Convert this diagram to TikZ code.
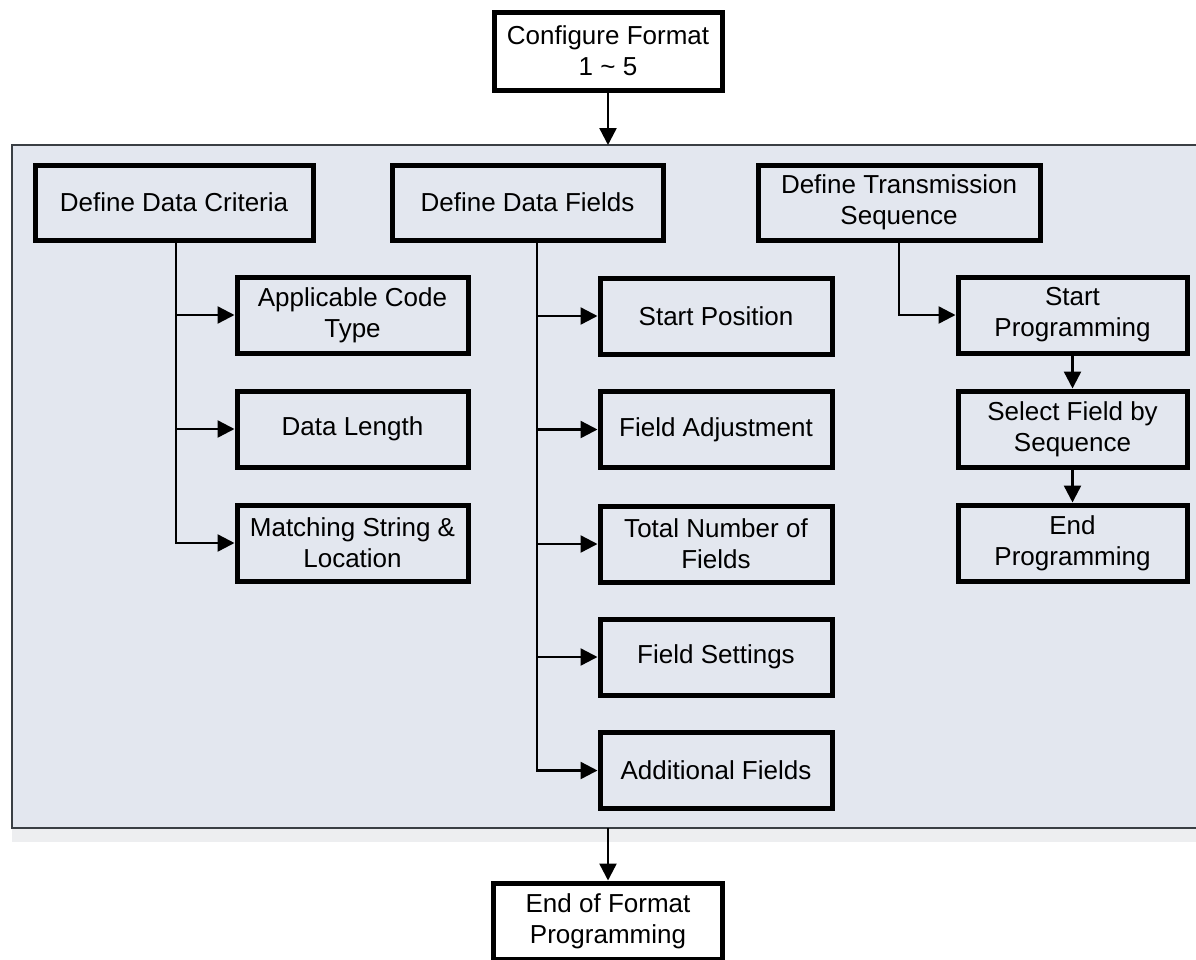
\documentclass[tikz,border=0pt]{standalone}
\usepackage{fontspec}
\setmainfont{Liberation Sans}
\usetikzlibrary{arrows.meta}
\definecolor{panelfill}{HTML}{E3E7EF}
\definecolor{panelline}{HTML}{3A3F44}
\definecolor{shadowfill}{HTML}{EDEEF0}
\begin{document}
\begin{tikzpicture}[x=1pt,y=-1pt,
  box/.style={draw=black, line width=5pt, rectangle, align=center,
    inner sep=0pt, font=\fontsize{26}{31}\selectfont},
  wbox/.style={box, fill=white},
  conn/.style={line width=2.4pt, -{Triangle[length=17pt,width=17pt]}},
]
\useasboundingbox (0,0) rectangle (1196,959);
% panel
\fill[shadowfill] (12,828) rectangle (1196,842);
\fill[panelfill] (12,145) rectangle (1196,828);
\draw[panelline, line width=2pt] (1196,145) -- (12,145) -- (12,828) -- (1196,828);

% top and bottom
\node[wbox, minimum width=228pt, minimum height=78pt] (cfg) at (608,51) {Configure Format\\1 \textasciitilde{} 5};
\coordinate (ptop) at (608,145);
\coordinate (pbot) at (608,828);
\node[wbox, minimum width=229pt, minimum height=76pt] (eop) at (608,921) {End of Format\\Programming};
\draw[conn] (cfg.south) -- (ptop);
\draw[conn] (pbot) -- (eop.north);

% column 1
\node[box, minimum width=278pt, minimum height=75pt] (ddc) at (174,202.5) {Define Data Criteria};
\node[box, minimum width=231pt, minimum height=76pt] (act) at (352.5,315) {Applicable Code\\Type};
\node[box, minimum width=231pt, minimum height=76pt] (dl) at (352.5,429) {Data Length};
\node[box, minimum width=231pt, minimum height=76pt] (msl) at (352.5,543) {Matching String \&\\Location};
\draw[conn] ([xshift=2pt]ddc.south) |- (act.west);
\draw[conn] ([xshift=2pt]ddc.south) |- (dl.west);
\draw[conn] ([xshift=2pt]ddc.south) |- (msl.west);

% column 2
\node[box, minimum width=271pt, minimum height=75pt] (ddf) at (527.5,202.5) {Define Data Fields};
\node[box, minimum width=232pt, minimum height=76pt] (sp) at (716,316) {Start Position};
\node[box, minimum width=232pt, minimum height=76pt] (fa) at (716,429.5) {Field Adjustment};
\node[box, minimum width=232pt, minimum height=76pt] (tnf) at (716,544) {Total Number of\\Fields};
\node[box, minimum width=232pt, minimum height=76pt] (fs) at (716,657) {Field Settings};
\node[box, minimum width=232pt, minimum height=76pt] (af) at (716,770.5) {Additional Fields};
\draw[conn] ([xshift=9.5pt]ddf.south) |- (sp.west);
\draw[conn] ([xshift=9.5pt]ddf.south) |- (fa.west);
\draw[conn] ([xshift=9.5pt]ddf.south) |- (tnf.west);
\draw[conn] ([xshift=9.5pt]ddf.south) |- (fs.west);
\draw[conn] ([xshift=9.5pt]ddf.south) |- (af.west);

% column 3
\node[box, minimum width=282pt, minimum height=75pt] (dts) at (899,202.5) {Define Transmission\\Sequence};
\node[box, minimum width=229pt, minimum height=76pt] (stp) at (1072.5,315) {Start\\Programming};
\node[box, minimum width=229pt, minimum height=76pt] (sfs) at (1072.5,429) {Select Field by\\Sequence};
\node[box, minimum width=229pt, minimum height=76pt] (enp) at (1072.5,543) {End\\Programming};
\draw[conn] (dts.south) |- (stp.west);
\draw[conn] (stp.south) -- (sfs.north);
\draw[conn] (sfs.south) -- (enp.north);
\end{tikzpicture}
\end{document}
